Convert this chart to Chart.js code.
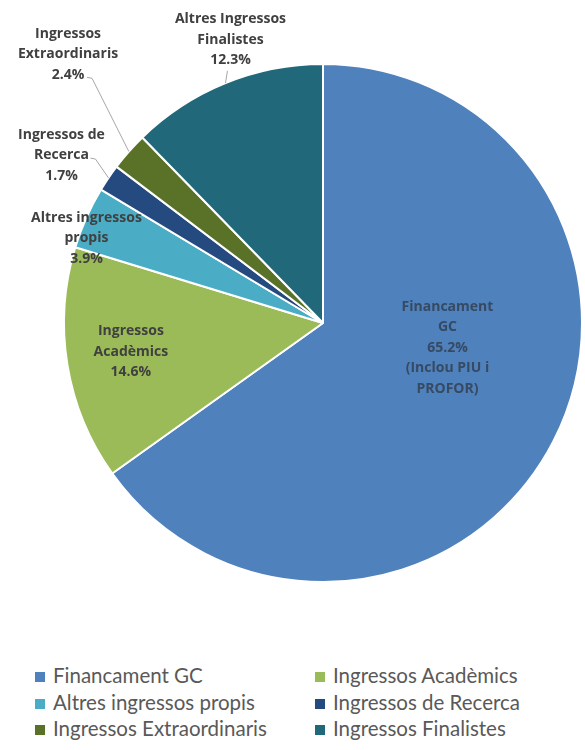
<!DOCTYPE html>
<html>
<head>
<meta charset="utf-8">
<script src="https://cdn.jsdelivr.net/npm/chart.js@4/dist/chart.umd.min.js"></script>
<style>
  html,body{margin:0;padding:0;background:#fff}
  #wrap{position:relative;width:585px;height:750px}
  #legend{position:absolute;left:35px;top:662px;width:550px;font-family:Lato,"Open Sans",sans-serif;font-size:20.5px;color:#595959}
  #legend .item{position:absolute;white-space:nowrap;line-height:26px}
  #legend .box{display:inline-block;width:10px;height:10px;margin-right:8px;vertical-align:1px}
</style>
</head>
<body>
<div id="wrap">
  <canvas id="c" width="585" height="600"></canvas>
  <div id="legend"></div>
</div>
<script>
var categories = ['Financament GC','Ingressos Acadèmics','Altres ingressos propis','Ingressos de Recerca','Ingressos Extraordinaris','Ingressos Finalistes'];
var values = [65.2, 14.6, 3.9, 1.7, 2.4, 12.3];
var sliceLabels = [
  ['Financament','GC','65.2%','(Inclou PIU i','PROFOR)'],
  ['Ingressos','Acadèmics','14.6%'],
  ['Altres ingressos','propis','3.9%'],
  ['Ingressos de','Recerca','1.7%'],
  ['Ingressos','Extraordinaris','2.4%'],
  ['Altres Ingressos','Finalistes','12.3%']
];
var colors = ['#4f81bd','#9bbb59','#4bacc6','#254a80','#5a7228','#21687a'];

// label placement: polar (r as fraction of radius, a in degrees clockwise from top), leader start offset
var placement = [
  {r:0.49, a:101.3, color:'#364a63'},
  {r:0.75, a:261.5},
  {r:0.97, a:289.7},
  {r:1.20, a:302.7, lead:[29,3]},
  {r:1.43, a:316.5, lead:[19,23]},
  {r:1.15, a:341.9, lead:[-3,31], straight:true}
];

var labelPlugin = {
  id:'sliceLabels',
  afterDatasetsDraw:function(chart){
    var ctx = chart.ctx;
    var meta = chart.getDatasetMeta(0);
    ctx.save();
    ctx.font = 'bold 14px "Open Sans", sans-serif';
    ctx.textAlign = 'center';
    ctx.textBaseline = 'middle';
    meta.data.forEach(function(arc, i){
      var p = placement[i];
      var R = arc.outerRadius;
      var ang = p.a*Math.PI/180;
      var cx = arc.x + Math.sin(ang)*R*p.r;
      var cy = arc.y - Math.cos(ang)*R*p.r;
      var lines = sliceLabels[i];
      var lh = 20.5;
      var y0 = cy - (lines.length-1)*lh/2;
      if(p.lead){
        var mid = (arc.startAngle+arc.endAngle)/2;
        var ex = arc.x + Math.cos(mid)*R, ey = arc.y + Math.sin(mid)*R;
        var sx = cx+p.lead[0], sy = cy+p.lead[1];
        ctx.strokeStyle = '#a6a6a6'; ctx.lineWidth = 1;
        ctx.beginPath(); ctx.moveTo(sx, sy);
        if(!p.straight){ ctx.lineTo(sx+5, sy+1); }
        ctx.lineTo(ex, ey); ctx.stroke();
      }
      ctx.fillStyle = p.color || '#404040';
      lines.forEach(function(t, k){ ctx.fillText(t, cx, y0 + k*lh); });
    });
    ctx.restore();
  }
};

new Chart(document.getElementById('c'), {
  type:'pie',
  data:{ labels:categories, datasets:[{ data:values, backgroundColor:colors, borderColor:'#ffffff', borderWidth:2 }] },
  options:{
    responsive:false, animation:false,
    layout:{ padding:{ left:63, right:2, top:63, bottom:17 } },
    plugins:{ legend:{display:false}, tooltip:{enabled:false} }
  },
  plugins:[labelPlugin]
});

var leg = document.getElementById('legend');
categories.forEach(function(name, i){
  var d = document.createElement('div'); d.className='item';
  d.style.left = (i%2 ? 280 : 0)+'px';
  d.style.top = (Math.floor(i/2)*26.5)+'px';
  d.innerHTML = '<span class="box" style="background:'+colors[i]+'"></span>'+name;
  leg.appendChild(d);
});
</script>
</body>
</html>
